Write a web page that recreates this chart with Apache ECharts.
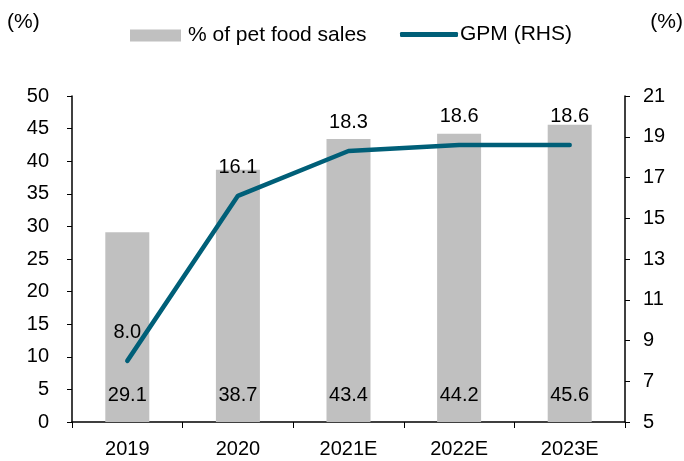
<!DOCTYPE html>
<html>
<head>
<meta charset="utf-8">
<script src="https://cdn.jsdelivr.net/npm/echarts@6/dist/echarts.min.js"></script>
<style>
  html, body { margin: 0; padding: 0; background: #fff; }
  #main { width: 684px; height: 461px; }
</style>
</head>
<body>
<div id="main"></div>
<script>
var years = ['2019', '2020', '2021E', '2022E', '2023E'];
var petFoodShare = [29.1, 38.7, 43.4, 44.2, 45.6];
var gpm = [8.0, 16.1, 18.3, 18.6, 18.6];

var chart = echarts.init(document.getElementById('main'));
var font = 'Liberation Sans, Arial, sans-serif';
var lineColor = '#005f78';

var option = {
    animation: false,
    textStyle: { fontFamily: font, color: '#000' },
    graphic: [
        { type: 'text', left: 7, top: 12, style: { text: '(%)', font: '21px ' + font, fill: '#000' } },
        { type: 'text', right: 1, top: 12, style: { text: '(%)', font: '21px ' + font, fill: '#000' } }
    ],
    legend: [
        {
            left: 130, top: 25, padding: 0,
            itemWidth: 51, itemHeight: 12,
            textStyle: { fontSize: 21, fontFamily: font, color: '#000', padding: [0, 0, 0, 2] },
            data: [{ name: '% of pet food sales', icon: 'rect' }]
        },
        {
            left: 400, top: 24, padding: 0,
            itemWidth: 58, itemHeight: 5,
            textStyle: { fontSize: 21, fontFamily: font, color: '#000', padding: [0, 0, 0, -3] },
            data: [{ name: 'GPM (RHS)', icon: 'roundRect' }]
        }
    ],
    grid: { left: 72, right: 59, top: 96, bottom: 39 },
    xAxis: {
        type: 'category',
        data: years,
        axisLine: { lineStyle: { color: '#000', width: 1.5 } },
        axisTick: { show: true, length: 6, lineStyle: { color: '#000' } },
        axisLabel: { fontSize: 20, color: '#000', margin: 17, fontFamily: font }
    },
    yAxis: [
        {
            type: 'value', min: 0, max: 50, interval: 5,
            axisLine: { show: true, lineStyle: { color: '#000', width: 1.5 } },
            axisTick: { show: true, length: 5, lineStyle: { color: '#000' } },
            axisLabel: { fontSize: 20, color: '#000', margin: 23, fontFamily: font },
            splitLine: { show: false }
        },
        {
            type: 'value', min: 5, max: 21, interval: 2,
            axisLine: { show: true, lineStyle: { color: '#000', width: 1.5 } },
            axisTick: { show: true, length: 5, lineStyle: { color: '#000' } },
            axisLabel: { fontSize: 20, color: '#000', margin: 18, fontFamily: font },
            splitLine: { show: false }
        }
    ],
    series: [
        {
            name: '% of pet food sales',
            type: 'bar',
            data: petFoodShare,
            barWidth: 44,
            itemStyle: { color: '#c0c0c0' },
            label: {
                show: true,
                position: 'insideBottom',
                distance: 17,
                fontSize: 20,
                color: '#000',
                fontFamily: font,
                formatter: function (p) { return p.value.toFixed(1); }
            }
        },
        {
            name: 'GPM (RHS)',
            type: 'line',
            yAxisIndex: 1,
            data: gpm,
            symbol: 'circle',
            symbolSize: 1,
            showSymbol: true,
            lineStyle: { color: lineColor, width: 4.5, cap: 'round' },
            itemStyle: { color: lineColor },
            label: {
                show: true,
                position: 'top',
                distance: 18,
                fontSize: 20,
                color: '#000',
                fontFamily: font,
                formatter: function (p) { return p.value.toFixed(1); }
            },
            z: 5
        }
    ]
};

chart.setOption(option);
</script>
</body>
</html>
